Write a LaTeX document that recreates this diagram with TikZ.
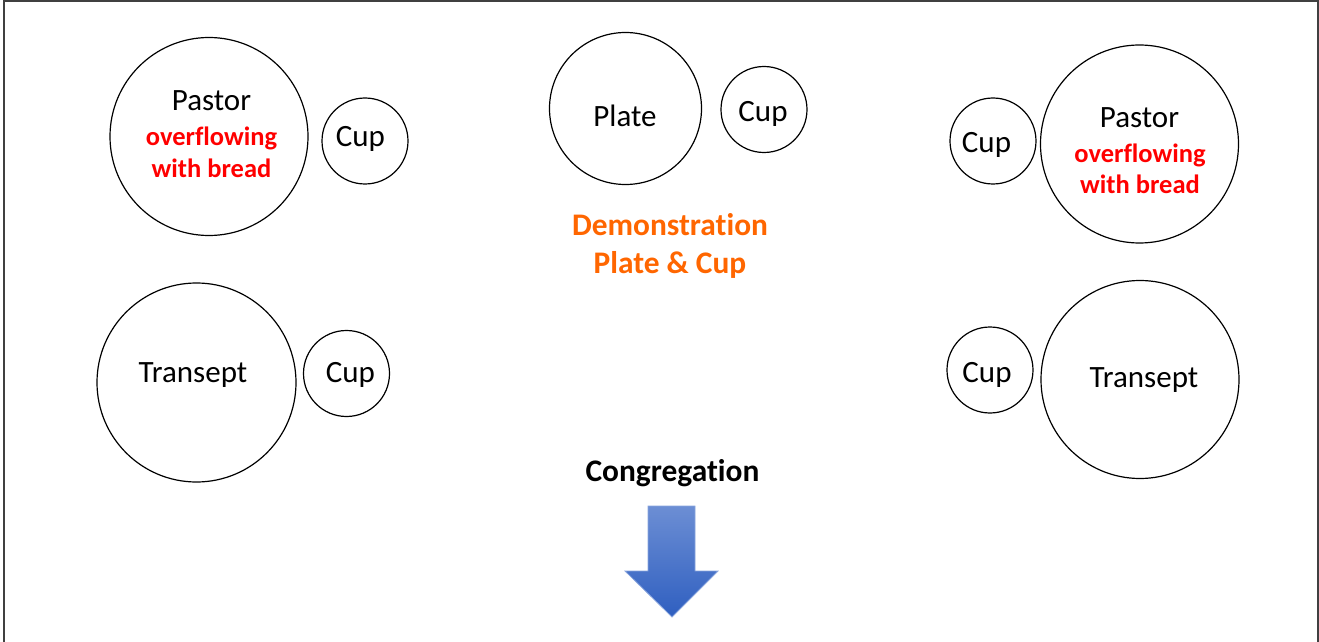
\documentclass[tikz,border=0pt]{standalone}
\usepackage{fontspec}
\setmainfont{Carlito}[Ligatures={NoCommon,NoDiscretionary}]
\definecolor{demoorange}{RGB}{255,102,0}
\definecolor{arrowtop}{RGB}{108,142,212}
\definecolor{arrowbot}{RGB}{47,95,192}
\begin{document}
\begin{tikzpicture}[x=0.5pt,y=-0.5pt,
  ring/.style={draw,circle,line width=0.6pt,inner sep=0pt},
  label/.style={anchor=base,inner sep=0pt,font=\fontsize{15.5}{18}\selectfont},
  note/.style={anchor=base,inner sep=0pt,text=red,font=\bfseries\fontsize{13.25}{16}\selectfont},
  head/.style={anchor=base,inner sep=0pt,font=\bfseries\fontsize{15.7}{18}\selectfont}]
\useasboundingbox (0,0) rectangle (1319,642);
\draw[line width=1pt,black!75] (4,642) -- (4,1) -- (1318,1) -- (1318,642); % frame, open at the bottom

% left pastor
\node[ring,minimum size=99pt] (pastorL) at (209,136.5) {};
\node[label] (pastorLname) at (211.5,111) {Pastor};
\node[note] (pastorLa) at (211.5,146) {overflowing};
\node[note] (pastorLb) at (211.5,177) {with bread};
\node[ring,minimum size=43pt] (cupPL) at (365,141) {};
\node[label] (cupPLname) at (360.5,147) {Cup};

% demonstration table
\node[ring,minimum size=76pt] (plate) at (625.5,108.5) {};
\node[label] (platename) at (625,127) {Plate};
\node[ring,minimum size=43pt] (cupD) at (764,109.5) {};
\node[label] (cupDname) at (763,122) {Cup};
\node[head,text=demoorange] (demoa) at (670,235) {Demonstration};
\node[head,text=demoorange] (demob) at (670,273) {Plate \& Cup};

% right pastor
\node[ring,minimum size=43pt] (cupPR) at (993,141) {};
\node[label] (cupPRname) at (986.5,153) {Cup};
\node[ring,minimum size=99pt] (pastorR) at (1139.5,144) {};
\node[label] (pastorRname) at (1139.5,128) {Pastor};
\node[note] (pastorRa) at (1140,162.5) {overflowing};
\node[note] (pastorRb) at (1140,194) {with bread};

% transepts
\node[ring,minimum size=99.5pt] (transL) at (196.5,382.5) {};
\node[label] (transLname) at (193,382) {Transept};
\node[ring,minimum size=43pt] (cupTL) at (346.5,373.5) {};
\node[label] (cupTLname) at (350.5,382) {Cup};
\node[ring,minimum size=43pt] (cupTR) at (990,370) {};
\node[label] (cupTRname) at (987,382) {Cup};
\node[ring,minimum size=99pt] (transR) at (1140,379.5) {};
\node[label] (transRname) at (1144,387) {Transept};

% congregation
\node[head] (congr) at (672.5,481) {Congregation};
\shade[top color=arrowtop,bottom color=arrowbot,draw=arrowtop!80,line width=0.4pt]
  (648,506) -- (695,506) -- (695,571) -- (718,571) -- (672,617) -- (625,571) -- (648,571) -- cycle;
\end{tikzpicture}
\end{document}
